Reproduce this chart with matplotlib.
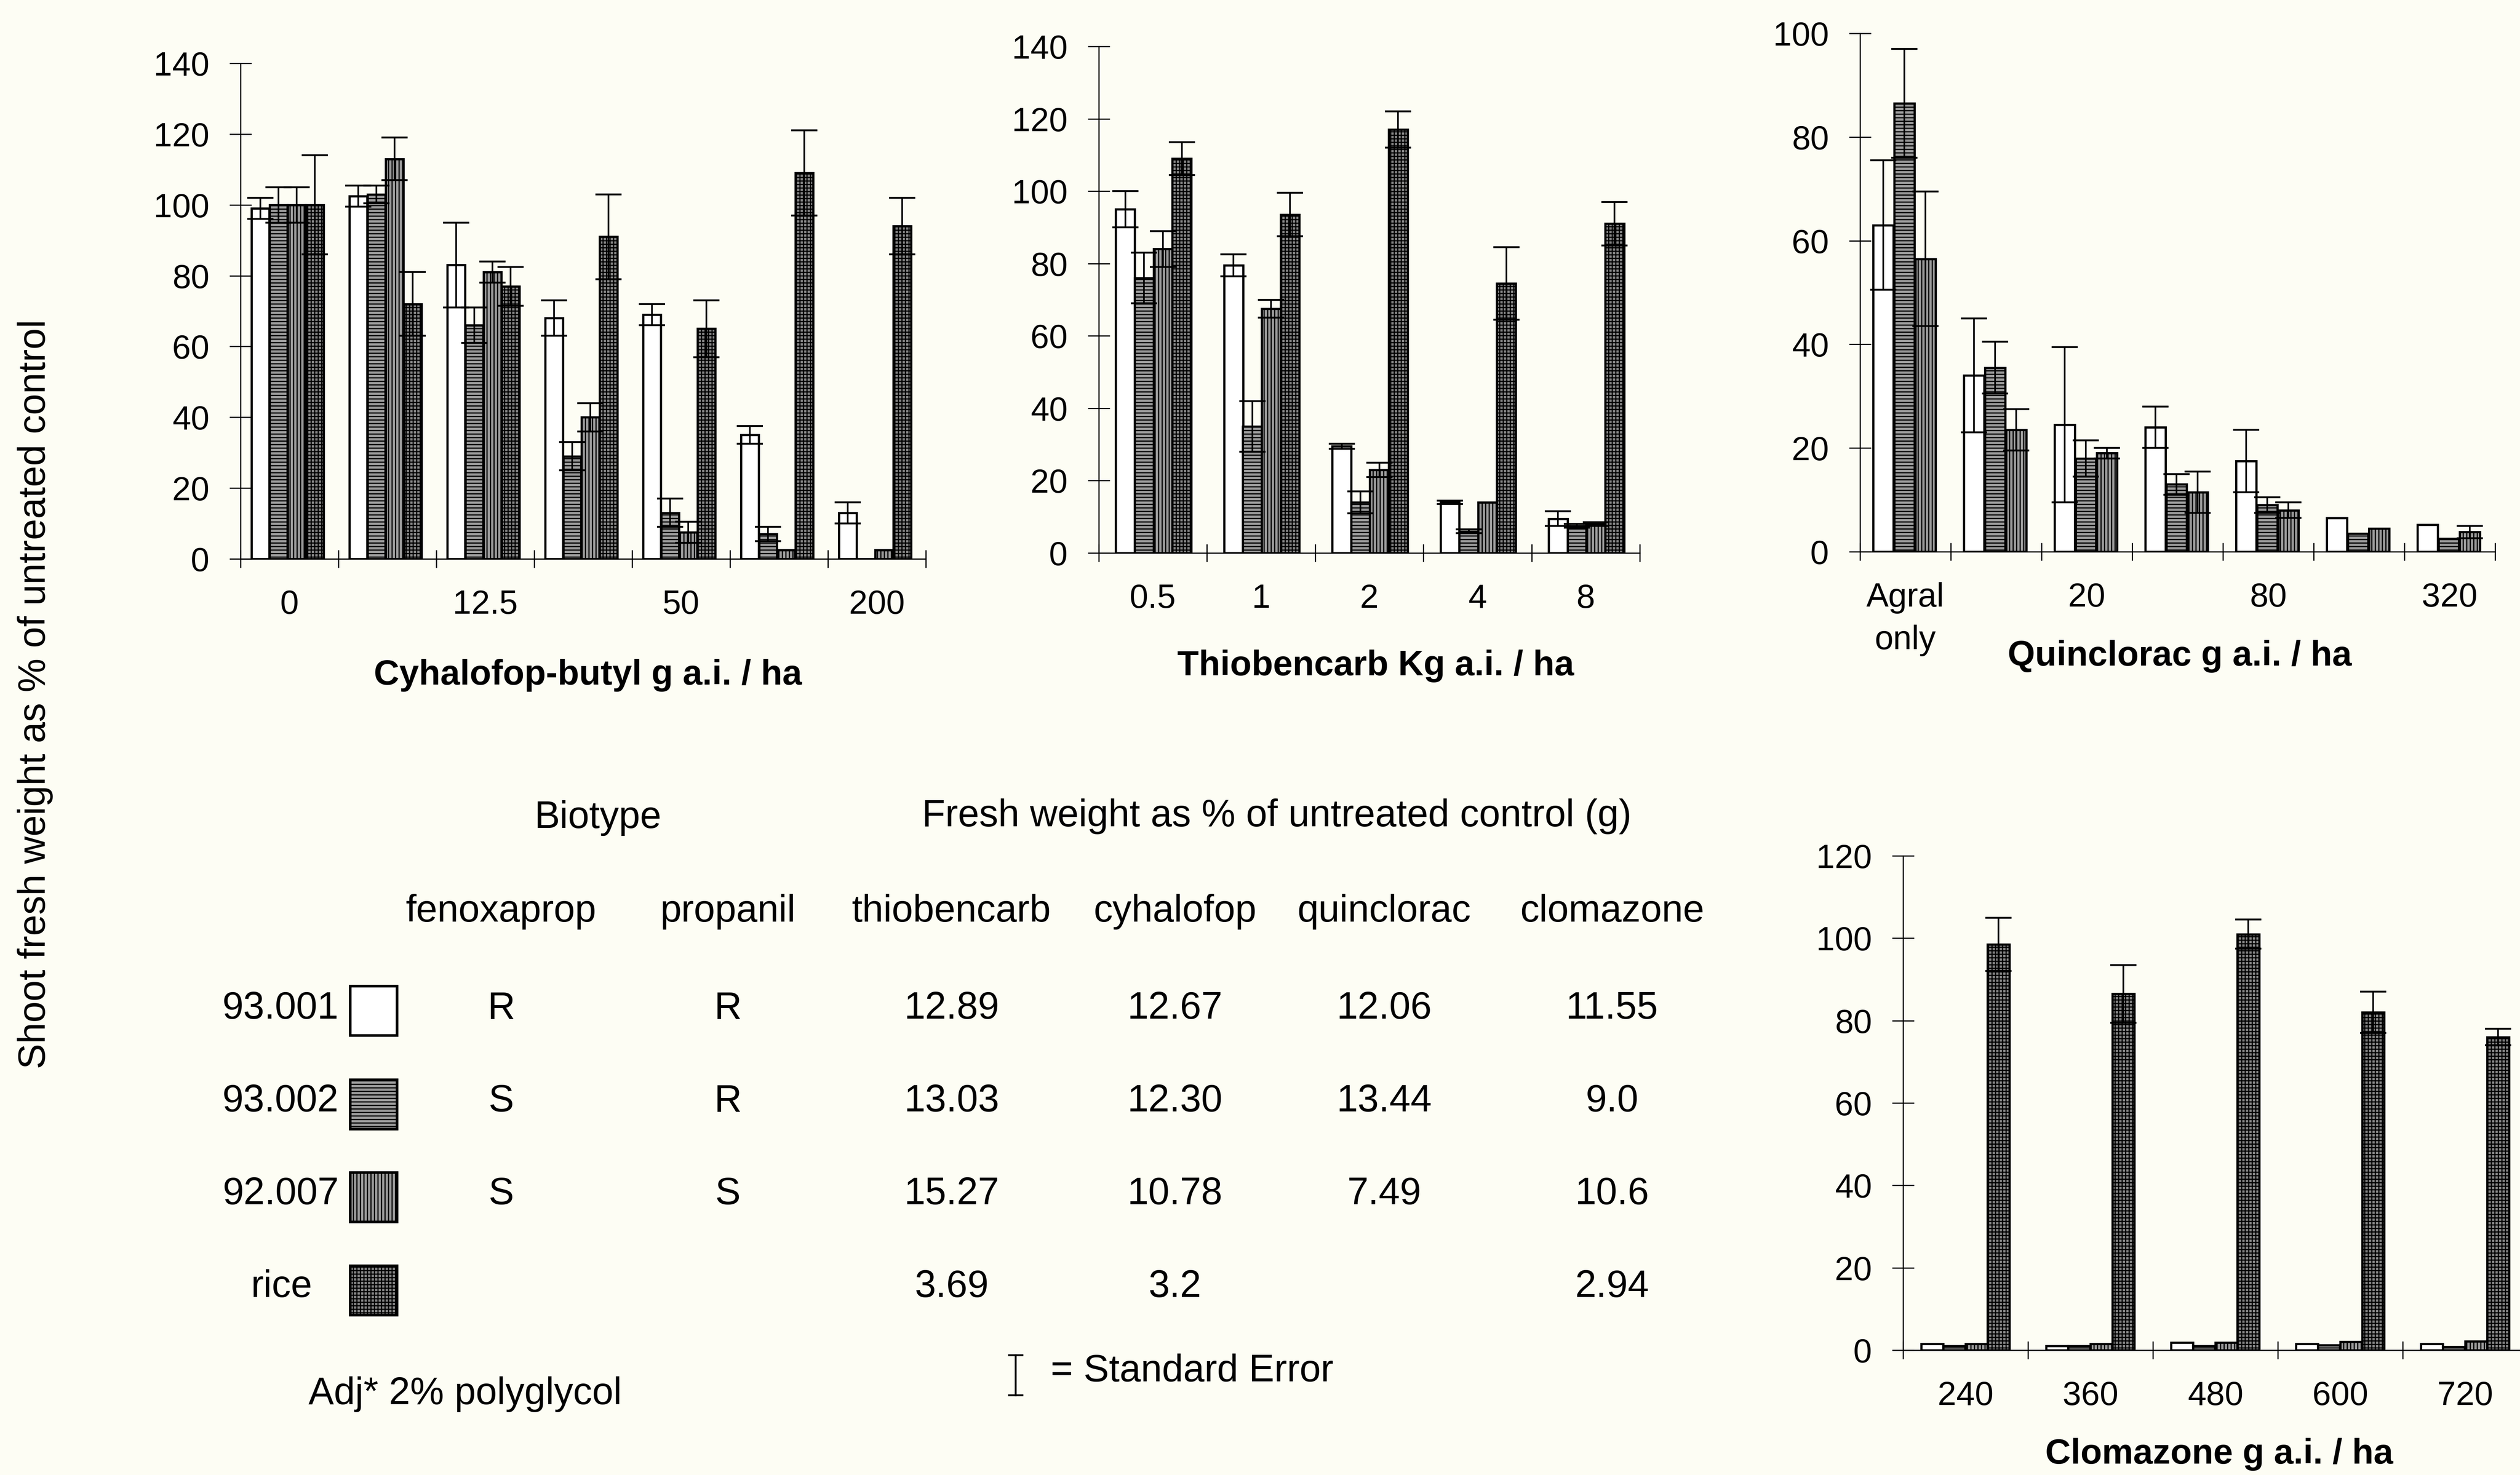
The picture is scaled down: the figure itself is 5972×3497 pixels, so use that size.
import matplotlib
matplotlib.use("Agg")
import matplotlib.pyplot as plt
from matplotlib.lines import Line2D
from matplotlib.patches import Rectangle
import numpy as np

# ── data ─────────────────────────────────────────────────────────────────

cyh_doses = ["0", "6.25", "12.5", "25", "50", "100", "200"]
cyh_shown = ["0", "", "12.5", "", "50", "", "200"]
cyh_93001 = [99, 102.5, 83, 68, 69, 35, 13]
cyh_93001_se = [3, 3, 12, 5, 3, 2.5, 3]
cyh_93002 = [100, 103, 66, 29, 13, 7, 0]
cyh_93002_se = [5, 2.5, 5, 4, 4, 2, 0]
cyh_92007 = [100, 113, 81, 40, 7.5, 2.5, 2.5]
cyh_92007_se = [5, 6, 3, 4, 3, 0, 0]
cyh_rice = [100, 72, 77, 91, 65, 109, 94]
cyh_rice_se = [14, 9, 5.5, 12, 8, 12, 8]

thb_doses = ["0.5", "1", "2", "4", "8"]
thb_93001 = [95, 79.5, 29.5, 14, 9.5]
thb_93001_se = [5, 3, 0.7, 0.5, 2]
thb_93002 = [76, 35, 14, 6, 7.5]
thb_93002_se = [7, 7, 3, 0.5, 0.5]
thb_92007 = [84, 67.5, 23, 14, 8]
thb_92007_se = [5, 2.5, 2, 0, 0.5]
thb_rice = [109, 93.5, 117, 74.5, 91]
thb_rice_se = [4.5, 6, 5, 10, 6]

qui_doses = ["Agral only", "10", "20", "40", "80", "160", "320"]
qui_shown = ["Agral\nonly", "", "20", "", "80", "", "320"]
qui_93001 = [63, 34, 24.5, 24, 17.5, 6.5, 5.2]
qui_93001_se = [12.5, 11, 15, 4, 6, 0, 0]
qui_93002 = [86.5, 35.5, 18, 13, 9, 3.5, 2.5]
qui_93002_se = [10.5, 5, 3.5, 2, 1.5, 0, 0]
qui_92007 = [56.5, 23.5, 19, 11.5, 8, 4.5, 3.8]
qui_92007_se = [13, 4, 1, 4, 1.5, 0, 1.2]

clo_doses = ["240", "360", "480", "600", "720"]
clo_93001 = [1.5, 1, 1.8, 1.5, 1.5]
clo_93002 = [1, 1, 1, 1.2, 0.8]
clo_92007 = [1.5, 1.5, 1.8, 2, 2.2]
clo_rice = [98.5, 86.5, 101, 82, 76]
clo_rice_se = [6.5, 7, 3.5, 5, 2]

biotype_ids = ["93.001", "93.002", "92.007", "rice"]
fenoxaprop = ["R", "S", "S", ""]
propanil = ["R", "R", "S", ""]
fw_thiobencarb = ["12.89", "13.03", "15.27", "3.69"]
fw_cyhalofop = ["12.67", "12.30", "10.78", "3.2"]
fw_quinclorac = ["12.06", "13.44", "7.49", ""]
fw_clomazone = ["11.55", "9.0", "10.6", "2.94"]

# ── styling ──────────────────────────────────────────────────────────────

W, H = 5972, 3497
BG = "#fdfdf4"
plt.rcParams["font.family"] = ["Liberation Sans", "DejaVu Sans"]
plt.rcParams["hatch.linewidth"] = 2.0

STYLES = [
    dict(facecolor="white", hatch=None),
    dict(facecolor="#9c9c9c", hatch="--"),
    dict(facecolor="#9c9c9c", hatch="||"),
    dict(facecolor="#858585", hatch="++"),
]
TICK_FS = 57
TITLE_FS = 60
TABLE_FS = 65


def box(l, t, r, b):
    return [l / W, 1 - b / H, (r - l) / W, (b - t) / H]


def fx(x):
    return x / W


def fy(y):
    return 1 - y / H


def draw_panel(ax, series, errors, centre, step, width, ylim, yticks, shown):
    n = len(series[0])
    x = np.arange(n)
    m = len(series)
    for k, (vals, se) in enumerate(zip(series, errors)):
        xs = x + centre + (k - (m - 1) / 2) * step
        ax.bar(xs, vals, width, edgecolor="black", linewidth=3.8, **STYLES[k])
        if se is None:
            continue
        se = np.asarray(se, dtype=float)
        keep = se > 0
        ax.errorbar(xs[keep], np.asarray(vals)[keep], yerr=se[keep], fmt="none",
                    ecolor="black", elinewidth=2.8, capsize=22, capthick=3.2)
    ax.set_xlim(-0.5, n - 0.5)
    ax.set_ylim(*ylim)
    ax.set_yticks(yticks)
    ax.set_xticks(np.arange(n + 1) - 0.5)
    ax.set_xticklabels([])
    ax.set_xticks(x, minor=True)
    ax.set_xticklabels(shown, minor=True, fontsize=TICK_FS, linespacing=1.45, va="top")
    ax.tick_params(axis="x", which="major", direction="inout", length=30, width=2)
    ax.tick_params(axis="x", which="minor", length=0, pad=52)
    ax.tick_params(axis="y", direction="inout", length=38, width=2, pad=34,
                   labelsize=TICK_FS)
    for side in ("top", "right"):
        ax.spines[side].set_visible(False)
    for side in ("left", "bottom"):
        ax.spines[side].set_linewidth(2)
    ax.set_facecolor("none")


fig = plt.figure(figsize=(W / 100, H / 100), dpi=100, facecolor=BG)

# cyhalofop-butyl
ax1 = fig.add_axes(box(570, 150, 2194, 1325))
draw_panel(ax1, [cyh_93001, cyh_93002, cyh_92007, cyh_rice],
           [cyh_93001_se, cyh_93002_se, cyh_92007_se, cyh_rice_se],
           -0.02, 0.186, 0.18, (0, 140), range(0, 141, 20), cyh_shown)
fig.text(fx(1393), fy(1601), "Cyhalofop-butyl g a.i. / ha", ha="center", va="center",
         fontsize=TITLE_FS, fontweight="bold")

# thiobencarb
ax2 = fig.add_axes(box(2604, 110, 3886, 1311))
draw_panel(ax2, [thb_93001, thb_93002, thb_92007, thb_rice],
           [thb_93001_se, thb_93002_se, thb_92007_se, thb_rice_se],
           0.006, 0.174, 0.175, (0, 140), range(0, 141, 20), thb_doses)
fig.text(fx(3260), fy(1579), "Thiobencarb Kg a.i. / ha", ha="center", va="center",
         fontsize=TITLE_FS, fontweight="bold")

# quinclorac
ax3 = fig.add_axes(box(4408, 79, 5913, 1308))
draw_panel(ax3, [qui_93001, qui_93002, qui_92007],
           [qui_93001_se, qui_93002_se, qui_92007_se],
           -0.011, 0.232, 0.225, (0, 100), range(0, 101, 20), qui_shown)
fig.text(fx(5166), fy(1556), "Quinclorac g a.i. / ha", ha="center", va="center",
         fontsize=TITLE_FS, fontweight="bold")

# clomazone (runs off the right edge, as in the scan)
ax4 = fig.add_axes(box(4510, 2029, 5990, 3201))
draw_panel(ax4, [clo_93001, clo_93002, clo_92007, clo_rice],
           [None, None, None, clo_rice_se],
           -0.002, 0.177, 0.176, (0, 120), range(0, 121, 20), clo_doses)
fig.text(fx(5259), fy(3448), "Clomazone g a.i. / ha", ha="center", va="center",
         fontsize=TITLE_FS, fontweight="bold")

fig.text(fx(84), fy(1646), "Shoot fresh weight as % of untreated control", rotation=90,
         ha="center", va="center", fontsize=TABLE_FS)

# ── legend table ─────────────────────────────────────────────────────────

fig.text(fx(1417), fy(1939), "Biotype", ha="center", va="center", fontsize=TABLE_FS)
fig.text(fx(3026), fy(1936), "Fresh weight as % of untreated control (g)",
         ha="center", va="center", fontsize=TABLE_FS)

col_x = [1188, 1725, 2255, 2784, 3280, 3820]
headers = ["fenoxaprop", "propanil", "thiobencarb", "cyhalofop", "quinclorac", "clomazone"]
for cx, head in zip(col_x, headers):
    fig.text(fx(cx), fy(2161), head, ha="center", va="center", fontsize=TABLE_FS)

row_y = [2392, 2612, 2832, 3052]
swatch_top = [2338, 2560, 2780, 3001]
columns = [fenoxaprop, propanil, fw_thiobencarb, fw_cyhalofop, fw_quinclorac, fw_clomazone]
for i, name in enumerate(biotype_ids):
    if name == "rice":
        fig.text(fx(668), fy(row_y[i]), name, ha="center", va="center", fontsize=TABLE_FS)
    else:
        fig.text(fx(803), fy(row_y[i]), name, ha="right", va="center", fontsize=TABLE_FS)
    sw = Rectangle((fx(830), fy(swatch_top[i] + 117)), 111 / W, 117 / H,
                   transform=fig.transFigure, edgecolor="black", linewidth=4.5, **STYLES[i])
    fig.add_artist(sw)
    for cx, col in zip(col_x, columns):
        if col[i]:
            fig.text(fx(cx), fy(row_y[i]), col[i], ha="center", va="center", fontsize=TABLE_FS)

fig.text(fx(1102), fy(3305), "Adj* 2% polyglycol", ha="center", va="center", fontsize=TABLE_FS)

# standard-error key: a small capped bar
for seg in ([(2407, 2407), (3213, 3308)], [(2391, 2423), (3213, 3213)], [(2391, 2423), (3308, 3308)]):
    fig.add_artist(Line2D([fx(v) for v in seg[0]], [fy(v) for v in seg[1]],
                          transform=fig.transFigure, color="black", linewidth=3.2))
fig.text(fx(2490), fy(3252), "= Standard Error", ha="left", va="center", fontsize=TABLE_FS)

fig.savefig("out.png", dpi=100, facecolor=BG)
